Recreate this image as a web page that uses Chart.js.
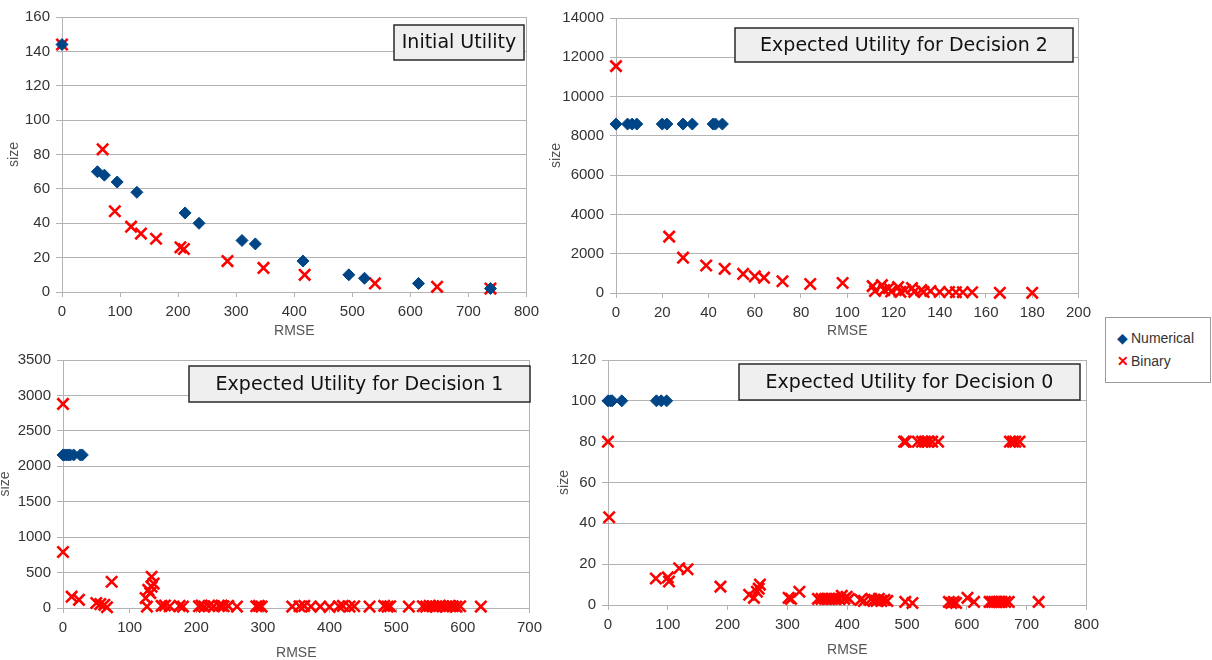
<!DOCTYPE html>
<html>
<head>
<meta charset="utf-8">
<script src="https://cdn.jsdelivr.net/npm/chart.js@4.4.1/dist/chart.umd.min.js"></script>
<style>
  body { margin: 0; background: #fff; width: 1212px; height: 660px; position: relative; overflow: hidden; }
  canvas { position: absolute; }
  #legend {
    position: absolute; left: 1105px; top: 317px; width: 104px; height: 64px;
    border: 1px solid #9a9a9a; font: 14px "Liberation Sans", Arial, sans-serif; color: #333;
  }
  #legend div { position: absolute; left: 8px; height: 18px; line-height: 18px; }
  #legend span.m { display: inline-block; width: 17px; text-align: center; }
</style>
</head>
<body>
<canvas id="p1" width="545" height="345" style="left:0;top:0"></canvas>
<canvas id="p2" width="552" height="345" style="left:545px;top:0"></canvas>
<canvas id="p3" width="548" height="315" style="left:0;top:345px"></canvas>
<canvas id="p4" width="560" height="315" style="left:545px;top:345px"></canvas>
<div id="legend">
  <div style="top:11px"><span class="m" style="color:#004586">&#9670;</span>Numerical</div>
  <div style="top:34px"><span class="m" style="color:#ff0000;font-weight:bold">&#10005;</span>Binary</div>
</div>
<script>
// Initial Utility
const initNumX = [0, 61, 73, 95, 129, 212, 236, 310, 333, 415, 494, 521, 614, 738];
const initNumY = [144, 70, 68, 64, 58, 46, 40, 30, 28, 18, 10, 8, 5, 2];
const initBinX = [0, 70, 91, 119, 136, 162, 204, 210, 285, 347, 418, 539, 646, 738];
const initBinY = [144, 83, 47, 38, 34, 31, 26, 25, 18, 14, 10, 5, 3, 2];

// Expected Utility for Decision 2
const d2NumX = [0, 5, 7, 9, 20, 22, 29, 33, 42, 43, 46];
const d2NumY = [8600, 8600, 8600, 8600, 8600, 8600, 8600, 8600, 8600, 8600, 8600];
const d2BinX = [0, 23, 29, 39, 47, 55, 60, 64, 72, 84, 98, 111, 112, 115, 116, 118, 119, 122, 123, 125,
                128, 129, 132, 133, 136, 140, 144, 147, 150, 154, 166, 180];
const d2BinY = [11550, 2870, 1800, 1400, 1230, 970, 850, 780, 600, 460, 510, 350, 100, 400, 150, 250, 80, 300, 60, 150,
                250, 60, 150, 50, 100, 50, 50, 40, 40, 40, 10, 10];

// Expected Utility for Decision 1
const d1NumX = [0, 2, 5, 8, 11, 16, 26, 29];
const d1NumY = [2160, 2160, 2160, 2160, 2160, 2160, 2160, 2160];
const d1BinX = [0, 0, 13, 24, 50, 56, 62, 66, 73, 126, 124, 128, 133, 133, 136, 131,
                148, 153, 160, 175, 180, 204, 208, 212, 219, 226, 234, 238, 241, 248, 261, 290, 294, 298,
                344, 355, 362, 372, 386, 400, 414, 420, 430, 437, 460, 482, 487, 491, 519,
                540, 545, 550, 555, 560, 565, 570, 575, 580, 585, 590, 596, 627];
const d1BinY = [2880, 790, 160, 115, 70, 55, 45, 10, 370, 20, 140, 255, 300, 440, 345, 210,
                30, 35, 25, 30, 20, 25, 35, 20, 30, 25, 30, 35, 25, 30, 20, 25, 30, 20,
                20, 25, 30, 20, 20, 15, 25, 30, 20, 25, 20, 30, 20, 25, 20,
                25, 20, 30, 25, 20, 30, 25, 20, 30, 25, 20, 25, 20];

// Expected Utility for Decision 0
const d0NumX = [0, 4, 7, 23, 81, 89, 98];
const d0NumY = [100, 100, 100, 100, 100, 100, 100];
const d0BinX = [0, 2, 80, 100, 102, 119, 133, 188, 236, 244, 249, 252, 254, 302, 306, 320,
                495, 498, 518, 525, 530, 535, 542, 552, 672, 677, 681, 688,
                351, 357, 363, 369, 375, 381, 387, 391, 395, 399, 403,
                422, 428, 440, 445, 449, 453, 457, 462, 467,
                497, 509, 570, 574, 578, 582, 601, 612,
                638, 642, 646, 650, 654, 658, 664, 670, 720];
const d0BinY = [80, 43, 13, 13.5, 11.5, 18, 17.5, 9, 5, 3.5, 6.5, 8, 10, 3.5, 3, 6.5,
                80, 80, 80, 80, 80, 80, 80, 80, 80, 80, 80, 80,
                3, 3, 3, 3, 3, 3, 3, 4.5, 3, 4, 3,
                2.5, 2, 3, 2.5, 2, 3, 2, 2.5, 2,
                1.5, 1, 1.5, 1, 1.5, 1, 3.5, 1.5,
                1.5, 1.5, 1.5, 1.5, 1.5, 1.5, 1.5, 1.5, 1.5];

const GRID = '#b3b3b3';
const BLUE = '#004586';
const RED = '#ff0000';

function pts(xs, ys) {
    return xs.map((x, i) => ({ x: x, y: ys[i] }));
}

const titleBox = {
    id: 'titleBox',
    afterDraw(chart, args, o) {
        const ctx = chart.ctx;
        ctx.save();
        ctx.fillStyle = '#efefef';
        ctx.strokeStyle = '#2a2a2a';
        ctx.lineWidth = 1.5;
        ctx.fillRect(o.x, o.y, o.w, o.h);
        ctx.strokeRect(o.x, o.y, o.w, o.h);
        ctx.fillStyle = '#111';
        ctx.font = '19px "DejaVu Sans"';
        ctx.textAlign = 'center';
        ctx.textBaseline = 'middle';
        ctx.fillText(o.text, o.x + o.w / 2, o.y + o.h / 2 + 1);
        ctx.restore();
    }
};

function panel(id, p) {
    new Chart(document.getElementById(id), {
        type: 'scatter',
        data: {
            datasets: [{
                label: 'Numerical',
                data: pts(p.numX, p.numY),
                pointStyle: 'rectRot',
                pointRadius: 6,
                backgroundColor: BLUE,
                borderColor: BLUE,
                borderWidth: 1,
                clip: false
            }, {
                label: 'Binary',
                data: pts(p.binX, p.binY),
                pointStyle: 'crossRot',
                pointRadius: 8,
                borderColor: RED,
                backgroundColor: RED,
                borderWidth: 2.6,
                clip: false
            }]
        },
        options: {
            responsive: false,
            animation: false,
            layout: { padding: { top: p.padTop, right: p.padRight, left: 0, bottom: 0 } },
            plugins: {
                legend: { display: false },
                tooltip: { enabled: false },
                titleBox: p.box
            },
            scales: {
                x: {
                    type: 'linear',
                    min: 0, max: p.xMax,
                    afterFit: s => { s.height = p.xHeight; },
                    border: { color: GRID },
                    grid: {
                        color: c => (c.tick && c.tick.value === p.xMax) ? GRID : 'rgba(0,0,0,0)',
                        tickColor: GRID,
                        tickLength: 5
                    },
                    ticks: {
                        stepSize: p.xStep, autoSkip: false, maxRotation: 0, padding: 6,
                        color: '#333', font: { family: 'Liberation Sans', size: 15 },
                        callback: v => String(v)
                    },
                    title: {
                        display: true, text: 'RMSE', color: '#555',
                        font: { family: 'Liberation Sans', size: 14 },
                        padding: { top: 0, bottom: p.xTitlePad }
                    }
                },
                y: {
                    type: 'linear',
                    min: 0, max: p.yMax,
                    afterFit: s => { s.width = p.yWidth; },
                    border: { color: GRID },
                    grid: { color: GRID, tickColor: GRID, tickLength: 6 },
                    ticks: {
                        stepSize: p.yStep, padding: 6,
                        color: '#333', font: { family: 'Liberation Sans', size: 15 },
                        callback: v => String(v)
                    },
                    title: {
                        display: true, text: 'size', color: '#555',
                        font: { family: 'Liberation Sans', size: 14 },
                        padding: { top: p.yTitlePad, bottom: 0 }
                    }
                }
            }
        },
        plugins: [titleBox]
    });
}

panel('p1', {
    numX: initNumX, numY: initNumY, binX: initBinX, binY: initBinY,
    xMax: 800, xStep: 100, yMax: 160, yStep: 20,
    padTop: 17, padRight: 12, yWidth: 62, xHeight: 53, xTitlePad: 5.6, yTitlePad: 6,
    box: { text: 'Initial Utility', x: 394, y: 25, w: 130, h: 35 }
});
panel('p2', {
    numX: d2NumX, numY: d2NumY, binX: d2BinX, binY: d2BinY,
    xMax: 200, xStep: 20, yMax: 14000, yStep: 2000,
    padTop: 18, padRight: 18, yWidth: 71, xHeight: 52, xTitlePad: 5.6, yTitlePad: 3,
    box: { text: 'Expected Utility for Decision 2', x: 735 - 545, y: 28, w: 338, h: 34 }
});
panel('p3', {
    numX: d1NumX, numY: d1NumY, binX: d1BinX, binY: d1BinY,
    xMax: 700, xStep: 100, yMax: 3500, yStep: 500,
    padTop: 12, padRight: 10, yWidth: 63, xHeight: 52, xTitlePad: -1.4, yTitlePad: -3,
    box: { text: 'Expected Utility for Decision 1', x: 189, y: 366 - 345, w: 341, h: 36 }
});
panel('p4', {
    numX: d0NumX, numY: d0NumY, binX: d0BinX, binY: d0BinY,
    xMax: 800, xStep: 100, yMax: 120, yStep: 20,
    padTop: 8, padRight: 14, yWidth: 63, xHeight: 55, xTitlePad: 1.6, yTitlePad: 10.6,
    box: { text: 'Expected Utility for Decision 0', x: 739 - 545, y: 364 - 345, w: 341, h: 36 }
});
</script>
</body>
</html>
